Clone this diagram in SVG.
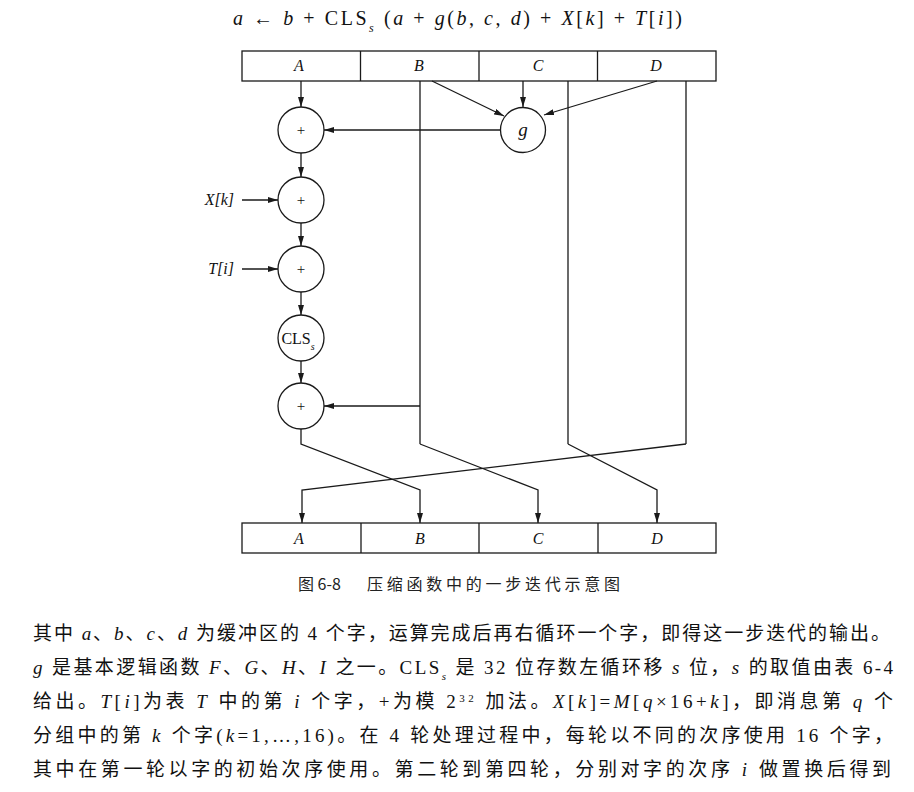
<svg xmlns="http://www.w3.org/2000/svg" width="914" height="792" viewBox="0 0 914 792">
<style>
.ln{stroke:#1a1a1a;stroke-width:1.3;fill:none}
.arr{stroke:#1a1a1a;stroke-width:1.3;fill:none;marker-end:url(#ah)}
.box{stroke:#1a1a1a;stroke-width:1.3;fill:#fff}
.nd{stroke:#1a1a1a;stroke-width:1.3;fill:#fff}
.ser{font-family:"Liberation Serif","Noto Sans CJK SC",serif;fill:#111}
.it{font-style:italic}
.lbl{font-family:"Liberation Serif",serif;font-style:italic;font-size:16px;fill:#111;text-anchor:middle}
.para{font-family:"Liberation Serif","Noto Sans CJK SC",serif;font-size:19px;fill:#111}
.cap{font-family:"Noto Sans CJK SC",sans-serif;font-size:16px;fill:#222}
</style>
<defs>
<marker id="ah" markerWidth="10" markerHeight="6" refX="10" refY="3" orient="auto" markerUnits="userSpaceOnUse">
<path d="M0,0 L10,3 L0,6 z" fill="#1a1a1a"/>
</marker>
</defs>
<rect width="914" height="792" fill="#fff"/>

<text class="ser" x="233" y="25" font-size="20" textLength="449" lengthAdjust="spacing"><tspan class="it">a</tspan> ← <tspan class="it">b</tspan> + CLS<tspan class="it" font-size="12" baseline-shift="sub">s</tspan> (<tspan class="it">a</tspan> + <tspan class="it">g</tspan>(<tspan class="it">b</tspan>, <tspan class="it">c</tspan>, <tspan class="it">d</tspan>) + <tspan class="it">X</tspan>[<tspan class="it">k</tspan>] + <tspan class="it">T</tspan>[<tspan class="it">i</tspan>])</text>

<g id="reg-top">
<rect class="box" x="242" y="51" width="474" height="30"/>
<line class="ln" x1="360.5" y1="51" x2="360.5" y2="81"/>
<line class="ln" x1="479" y1="51" x2="479" y2="81"/>
<line class="ln" x1="597.5" y1="51" x2="597.5" y2="81"/>
<text class="lbl" x="299" y="71">A</text>
<text class="lbl" x="419" y="71">B</text>
<text class="lbl" x="538" y="71">C</text>
<text class="lbl" x="656" y="71">D</text>
</g>

<g id="connectors">
<line class="arr" x1="301" y1="81" x2="301" y2="107"/>
<line class="arr" x1="432" y1="81" x2="504" y2="116"/>
<line class="arr" x1="523" y1="81" x2="523" y2="107"/>
<line class="arr" x1="657" y1="81" x2="544" y2="115"/>
<line class="arr" x1="500" y1="130" x2="324" y2="130"/>
<line class="arr" x1="301" y1="153" x2="301" y2="177"/>
<line class="arr" x1="242" y1="200" x2="278" y2="200"/>
<line class="arr" x1="301" y1="223" x2="301" y2="246"/>
<line class="arr" x1="242" y1="269" x2="278" y2="269"/>
<line class="arr" x1="301" y1="292" x2="301" y2="315"/>
<line class="arr" x1="301" y1="361" x2="301" y2="383"/>
<line class="arr" x1="420" y1="406" x2="324" y2="406"/>
<line class="ln" x1="420" y1="81" x2="420" y2="444"/>
<line class="ln" x1="568" y1="81" x2="568" y2="444"/>
<line class="ln" x1="686" y1="81" x2="686" y2="444"/>
<polyline class="arr" points="301,429 301,444 420,490 420,523"/>
<polyline class="arr" points="420,444 538,490 538,523"/>
<polyline class="arr" points="568,444 657,490 657,523"/>
<polyline class="arr" points="686,444 302,490 302,523"/>
</g>

<g id="g-node">
<circle class="nd" cx="523" cy="130" r="22.5"/>
<text class="ser it" x="523" y="136" font-size="19" text-anchor="middle">g</text>
</g>
<g id="add1">
<circle class="nd" cx="301" cy="130" r="23"/>
<text class="ser" x="301" y="135" font-size="15" text-anchor="middle">+</text>
</g>
<g id="add2">
<circle class="nd" cx="301" cy="200" r="23"/>
<text class="ser" x="301" y="205" font-size="15" text-anchor="middle">+</text>
</g>
<g id="add3">
<circle class="nd" cx="301" cy="269" r="23"/>
<text class="ser" x="301" y="274" font-size="15" text-anchor="middle">+</text>
</g>
<g id="cls">
<circle class="nd" cx="301" cy="338" r="23"/>
<text class="ser" x="298" y="344" font-size="16" text-anchor="middle">CLS<tspan class="it" font-size="10" baseline-shift="sub">s</tspan></text>
</g>
<g id="add4">
<circle class="nd" cx="301" cy="406" r="23"/>
<text class="ser" x="301" y="411" font-size="15" text-anchor="middle">+</text>
</g>
<g id="xk">
<text class="ser it" x="234" y="205" font-size="16" text-anchor="end">X[k]</text>
</g>
<g id="ti">
<text class="ser it" x="234" y="274" font-size="16" text-anchor="end">T[i]</text>
</g>

<g id="reg-bottom">
<rect class="box" x="242" y="523" width="474" height="30"/>
<line class="ln" x1="361" y1="523" x2="361" y2="553"/>
<line class="ln" x1="479" y1="523" x2="479" y2="553"/>
<line class="ln" x1="598" y1="523" x2="598" y2="553"/>
<text class="lbl" x="299" y="544">A</text>
<text class="lbl" x="420" y="544">B</text>
<text class="lbl" x="538" y="544">C</text>
<text class="lbl" x="657" y="544">D</text>
</g>

<text class="cap" x="298" y="590">图 6-8</text>
<text class="cap" x="367" y="590" textLength="253" lengthAdjust="spacing">压缩函数中的一步迭代示意图</text>

<text class="para" x="33" y="640" textLength="857" lengthAdjust="spacing">其中 <tspan class="it">a</tspan>、<tspan class="it">b</tspan>、<tspan class="it">c</tspan>、<tspan class="it">d</tspan> 为缓冲区的 4 个字，运算完成后再右循环一个字，即得这一步迭代的输出。</text>
<text class="para" x="33" y="674" textLength="860" lengthAdjust="spacing"><tspan class="it">g</tspan> 是基本逻辑函数 <tspan class="it">F</tspan>、<tspan class="it">G</tspan>、<tspan class="it">H</tspan>、<tspan class="it">I</tspan> 之一。CLS<tspan class="it" font-size="11" baseline-shift="sub">s</tspan> 是 32 位存数左循环移 <tspan class="it">s</tspan> 位，<tspan class="it">s</tspan> 的取值由表 6-4</text>
<text class="para" x="33" y="708" textLength="860" lengthAdjust="spacing">给出。<tspan class="it">T</tspan>[<tspan class="it">i</tspan>]为表 <tspan class="it">T</tspan> 中的第 <tspan class="it">i</tspan> 个字，+为模 2<tspan font-size="11" baseline-shift="super">32</tspan> 加法。<tspan class="it">X</tspan>[<tspan class="it">k</tspan>]=<tspan class="it">M</tspan>[<tspan class="it">q</tspan>×16+<tspan class="it">k</tspan>]，即消息第 <tspan class="it">q</tspan> 个</text>
<text class="para" x="33" y="742" textLength="860" lengthAdjust="spacing">分组中的第 <tspan class="it">k</tspan> 个字(<tspan class="it">k</tspan>=1,…,16)。在 4 轮处理过程中，每轮以不同的次序使用 16 个字，</text>
<text class="para" x="33" y="776" textLength="858" lengthAdjust="spacing">其中在第一轮以字的初始次序使用。第二轮到第四轮，分别对字的次序 <tspan class="it">i</tspan> 做置换后得到</text>
</svg>
